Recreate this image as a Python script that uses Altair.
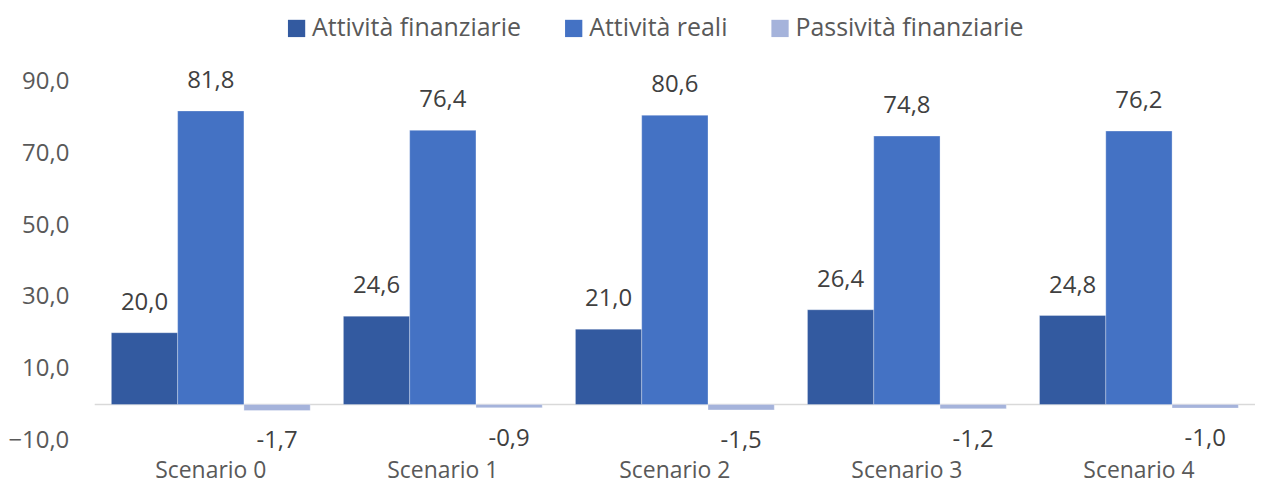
import altair as alt
import pandas as pd

categories = ["Scenario 0", "Scenario 1", "Scenario 2", "Scenario 3", "Scenario 4"]
series = ["Attività finanziarie", "Attività reali", "Passività finanziarie"]
att_fin = [20.0, 24.6, 21.0, 26.4, 24.8]
att_reali = [81.8, 76.4, 80.6, 74.8, 76.2]
pass_fin = [-1.7, -0.9, -1.5, -1.2, -1.0]
y_ticks = [-10, 10, 30, 50, 70, 90]
colors = ["#335AA0", "#4472C4", "#A5B3DB"]

rows = []
for i, c in enumerate(categories):
    for s, vals in zip(series, [att_fin, att_reali, pass_fin]):
        v = vals[i]
        rows.append({"scenario": c, "serie": s, "v": v,
                     "lab": f"{v:.1f}".replace(".", ",")})
df = pd.DataFrame(rows)

FONT = "Open Sans"
TXT = "#595959"
FS = 24

x = alt.X("scenario:N", sort=categories,
          scale=alt.Scale(paddingInner=0.143, paddingOuter=0.0717),
          axis=alt.Axis(title=None, labelAngle=0, domain=False, ticks=False,
                        labelPadding=19, labelFontSize=23, labelFont=FONT,
                        labelColor=TXT))
xo = alt.XOffset("serie:N", sort=series, scale=alt.Scale(paddingInner=0, paddingOuter=0))
y = alt.Y("v:Q", scale=alt.Scale(domain=[-10, 90], nice=False, zero=False),
          axis=alt.Axis(title=None, values=y_ticks, grid=False, domain=False, ticks=False,
                        labelPadding=26, labelFontSize=FS, labelFont=FONT, labelColor=TXT,
                        labelExpr="replace(format(datum.value, '.1f'), '.', ',')"))

base = alt.Chart(df)

zero = alt.Chart(pd.DataFrame({"z": [0]})).mark_rule(color="#d9d9d9", strokeWidth=1.5).encode(
    y=alt.Y("z:Q", scale=alt.Scale(domain=[-10, 90], nice=False, zero=False))
)

bars = base.mark_bar(stroke="#ffffff", strokeWidth=0.6, strokeOpacity=0.5).encode(
    x=x, xOffset=xo, y=y, y2=alt.datum(0),
    color=alt.Color("serie:N", sort=series,
                    scale=alt.Scale(domain=series, range=colors),
                    legend=alt.Legend(title=None, orient="none", legendX=190, legendY=-66,
                                      direction="horizontal", symbolType="square",
                                      symbolSize=300, symbolStrokeWidth=0,
                                      labelFontSize=25, labelFont=FONT, labelColor=TXT,
                                      labelLimit=0, columnPadding=40, labelOffset=3))
)

pos = base.transform_filter("datum.v >= 0").mark_text(
    dy=-30, baseline="middle", fontSize=FS, font=FONT, color="#404040"
).encode(x=x, xOffset=xo, y=y, text="lab:N")

neg = base.transform_filter("datum.v < 0").mark_text(
    dy=31, baseline="middle", fontSize=FS, font=FONT, color="#404040"
).encode(x=x, xOffset=xo, y=y, text="lab:N")

chart = alt.layer(zero, bars, pos, neg).properties(
    width=1164, height=360,
    autosize=alt.AutoSizeParams(type="none"),
    padding={"left": 87, "top": 73, "right": 0, "bottom": 44},
).configure_view(stroke=None)

chart.save("out.html", embed_options={"renderer": "svg", "actions": False})
